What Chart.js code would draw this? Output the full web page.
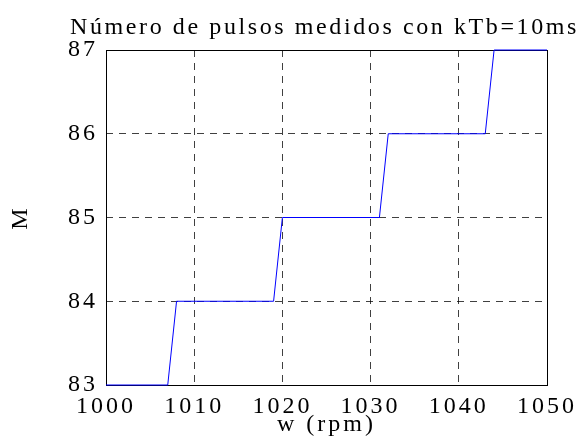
<!DOCTYPE html>
<html><head><meta charset="utf-8">
<script src="https://cdn.jsdelivr.net/npm/chart.js@4"></script>
<style>html,body{margin:0;padding:0;background:#fff;} canvas{display:block;}</style>
</head><body>
<canvas id="c" width="585" height="443"></canvas>
<script>
const titleText = 'Número de pulsos medidos con kTb=10ms';
const xLabel = 'w (rpm)';
const yLabel = 'M';
const speedRpm = [1000, 1007, 1008, 1019, 1020, 1031, 1032, 1043, 1044, 1050];
const pulseCount = [83, 83, 84, 84, 85, 85, 86, 86, 87, 87];
const xTicks = [1000, 1010, 1020, 1030, 1040, 1050];
const yTicks = [83, 84, 85, 86, 87];

const FONT = 'Liberation Serif';
const spacingPlugin = { id: 'spacing', beforeDraw(chart) { chart.ctx.letterSpacing = '3px'; } };
const boxPlugin = {
  id: 'box',
  beforeDatasetsDraw(chart) {
    const { ctx, chartArea: a } = chart;
    ctx.save();
    ctx.strokeStyle = '#000';
    ctx.lineWidth = 1;
    ctx.setLineDash([]);
    ctx.strokeRect(Math.round(a.left) + 0.5, Math.round(a.top) + 0.5, Math.round(a.right - a.left), Math.round(a.bottom - a.top));
    ctx.restore();
  }
};
const titlePlugin = {
  id: 'plotTitle',
  afterDraw(chart) {
    const { ctx, chartArea: a } = chart;
    ctx.save();
    ctx.letterSpacing = '2.6px';
    ctx.font = '24px "' + FONT + '"';
    ctx.fillStyle = '#000';
    ctx.textAlign = 'center';
    ctx.textBaseline = 'alphabetic';
    ctx.fillText(titleText, (a.left + a.right) / 2 - 2, 34);
    ctx.restore();
  }
};

new Chart(document.getElementById('c'), {
  type: 'line',
  data: {
    datasets: [{
      data: speedRpm.map((x, i) => ({ x: x, y: pulseCount[i] })),
      borderColor: 'rgb(0,0,255)',
      borderWidth: 1,
      pointRadius: 0,
      tension: 0,
      fill: false,
      clip: false
    }]
  },
  options: {
    responsive: false,
    animation: false,
    events: [],
    layout: { padding: { left: 0, right: 38, top: 50, bottom: 0 } },
    plugins: {
      legend: { display: false },
      tooltip: { enabled: false },
      title: { display: false, text: titleText }
    },
    scales: {
      x: {
        type: 'linear',
        min: 1000, max: 1050,
        afterBuildTicks: s => { s.ticks = xTicks.map(v => ({ value: v })); },
        afterFit: s => { s.height = 58; },
        ticks: { color: '#000', font: { family: FONT, size: 24 }, padding: 7, maxRotation: 0, callback: v => String(v) },
        grid: { color: 'rgba(0,0,0,0.75)', lineWidth: 1, drawTicks: false },
        border: { display: false, dash: [7, 6] },
        title: { display: true, text: xLabel, color: '#000', font: { family: FONT, size: 24 }, padding: { top: 3, bottom: 4 } }
      },
      y: {
        type: 'linear',
        min: 83, max: 87,
        afterBuildTicks: s => { s.ticks = yTicks.map(v => ({ value: v })); },
        afterFit: s => { s.width = 106; },
        ticks: { color: '#000', font: { family: FONT, size: 24 }, padding: 8, callback: v => String(v) },
        grid: { color: 'rgba(0,0,0,0.75)', lineWidth: 1, drawTicks: false },
        border: { display: false, dash: [7, 6] },
        title: { display: true, text: yLabel, color: '#000', font: { family: FONT, size: 24 }, padding: { top: 6, bottom: 6 } }
      }
    }
  },
  plugins: [spacingPlugin, boxPlugin, titlePlugin]
});
</script>
</body></html>
